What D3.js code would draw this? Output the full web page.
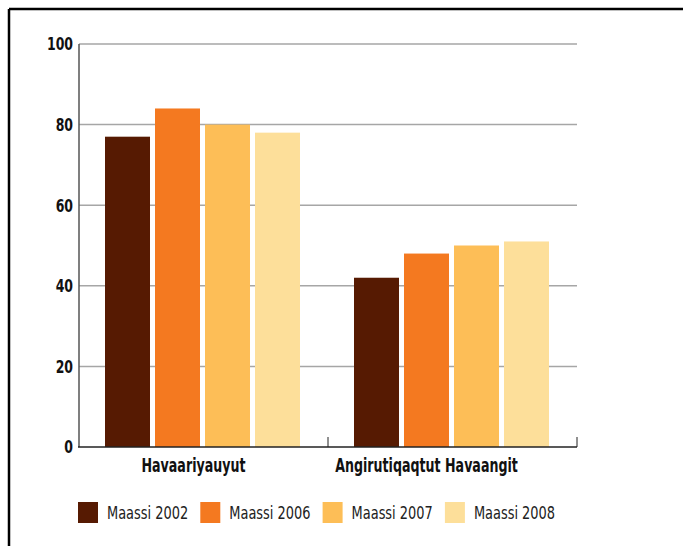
<!DOCTYPE html>
<html><head><meta charset="utf-8">
<script src="https://cdn.jsdelivr.net/npm/d3@7"></script>
<style>body{margin:0;background:#fff}svg{display:block}</style>
</head><body>
<svg id="c" width="683" height="546"></svg>
<script>
const categories = ["Havaariyauyut", "Angirutiqaqtut Havaangit"];
const seriesNames = ["Maassi 2002", "Maassi 2006", "Maassi 2007", "Maassi 2008"];
const values2002 = [77, 42];
const values2006 = [84, 48];
const values2007 = [80, 50];
const values2008 = [78, 51];
const yTicks = [0, 20, 40, 60, 80, 100];
const colors = ["#561a02", "#f47920", "#fdbe57", "#fddf9a"];

const series = [values2002, values2006, values2007, values2008];
const svg = d3.select("#c");
const font = "'DejaVu Sans Condensed','DejaVu Sans',sans-serif";

// frame
svg.append("line").attr("x1", 9).attr("x2", 683).attr("y1", 9).attr("y2", 9).attr("stroke", "#000").attr("stroke-width", 2.5);
svg.append("line").attr("x1", 9).attr("x2", 9).attr("y1", 9).attr("y2", 546).attr("stroke", "#000").attr("stroke-width", 2.5);

const m = {l: 79, r: 577, t: 44, b: 447};
const x0 = d3.scaleBand().domain(categories).range([m.l, m.r]);
const x1 = d3.scaleBand().domain(d3.range(4)).range([26, 221]).paddingInner(0.1);
const y = d3.scaleLinear().domain([0, 100]).range([m.b, m.t]);

// gridlines
svg.append("g").selectAll("line").data(yTicks.filter(d => d > 0)).join("line")
  .attr("x1", m.l).attr("x2", m.r).attr("y1", d => y(d)).attr("y2", d => y(d))
  .attr("stroke", "#a6a6a6").attr("stroke-width", 1.5);

// bars
categories.forEach((c, ci) => {
  series.forEach((s, si) => {
    svg.append("rect")
      .attr("x", x0(c) + x1(si)).attr("width", x1.bandwidth())
      .attr("y", y(s[ci])).attr("height", y(0) - y(s[ci]))
      .attr("fill", colors[si]);
  });
});

// y axis
svg.append("line").attr("x1", m.l).attr("x2", m.l).attr("y1", m.t).attr("y2", m.b).attr("stroke", "#555").attr("stroke-width", 1.5);
svg.append("g").selectAll("text").data(yTicks).join("text")
  .attr("transform", d => `translate(73,${y(d)}) scale(0.77,1)`)
  .attr("dy", "0.36em").attr("text-anchor", "end")
  .attr("font-family", font).attr("font-weight", "bold").attr("font-size", 18).attr("fill", "#111")
  .text(d => d);

// x axis
svg.append("line").attr("x1", m.l - 1).attr("x2", m.r).attr("y1", m.b).attr("y2", m.b).attr("stroke", "#222").attr("stroke-width", 1.5);
[x0(categories[1]), m.r].forEach(px => {
  svg.append("line").attr("x1", px).attr("x2", px).attr("y1", m.b - 10).attr("y2", m.b).attr("stroke", "#222").attr("stroke-width", 1);
});
const labelShift = [-10, -26];
svg.append("g").selectAll("text").data(categories).join("text")
  .attr("transform", (d, i) => `translate(${x0(d) + x0.bandwidth() / 2 + labelShift[i]},472) scale(0.74,1)`)
  .attr("text-anchor", "middle")
  .attr("font-family", font).attr("font-weight", "bold").attr("font-size", 19).attr("fill", "#111")
  .text(d => d);

// legend
const lg = svg.append("g").selectAll("g").data(seriesNames).join("g")
  .attr("transform", (d, i) => `translate(${78 + i * 122.3},502)`);
lg.append("rect").attr("width", 20).attr("height", 21).attr("fill", (d, i) => colors[i]);
lg.append("text").attr("transform", "translate(29,10.5) scale(0.8,1)").attr("dy", "0.36em")
  .attr("font-family", font).attr("font-size", 18).attr("fill", "#222").text(d => d);
</script>
</body></html>
